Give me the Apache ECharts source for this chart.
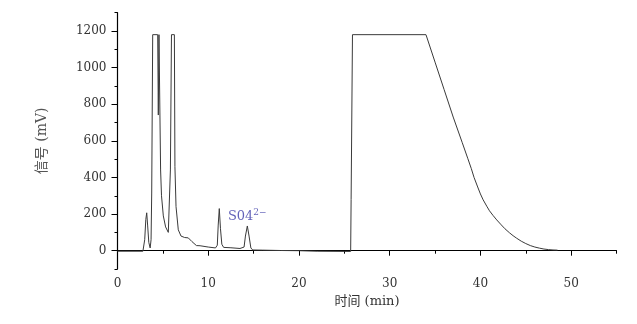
<!DOCTYPE html>
<html>
<head>
<meta charset="utf-8">
<script src="https://cdn.jsdelivr.net/npm/echarts@6/dist/echarts.min.js"></script>
<style>
  html, body { margin: 0; padding: 0; background: #fff; }
  #chart { width: 637px; height: 324px; }
</style>
</head>
<body>
<div id="chart"></div>
<script>
// retention time (min) and detector signal (mV)
const times = [
  0, 2.8, 3.0, 3.12, 3.22, 3.32, 3.45, 3.6, 3.7, 3.77, 3.88,
  4.43, 4.5, 4.57, 4.68, 4.75, 4.85, 5.05, 5.3, 5.6, 5.78,
  5.83, 5.95, 6.27, 6.33, 6.45, 6.7, 7.0, 7.4, 7.8, 8.2, 8.7, 9.1,
  10.0, 10.8, 11.0, 11.1, 11.22, 11.35, 11.5, 11.7, 12.5, 13.5,
  13.95, 14.1, 14.31, 14.5, 14.7, 14.9, 16, 18, 20, 22, 25, 25.7,
  25.75, 25.9, 34.0, 35, 36, 37, 38, 38.6, 39.0, 39.3, 39.7, 40.0,
  40.3, 40.7, 41.0, 41.4, 41.8, 42.3, 42.7, 43.2, 43.6, 44.0, 44.5,
  45.0, 45.5, 46.0, 46.5, 47.0, 47.5, 48.0, 48.5
];
const signal = [
  -3, -3, 60, 170, 207, 140, 45, 15, 60, 315, 1180,
  1180, 741, 1180, 1180, 441, 300, 190, 130, 100, 95,
  441, 1180, 1180, 459, 241, 114, 80, 72, 70, 50, 28, 27,
  20, 15, 30, 140, 230, 120, 35, 18, 16, 12,
  20, 80, 135, 80, 15, 4, 3, 1, 0, -3, -4, -4,
  280, 1180, 1180, 1030, 880, 730, 590, 505, 448, 400, 348, 310,
  278, 243, 218, 192, 168, 141, 120, 98, 82, 68, 52,
  39, 28, 20, 14, 9, 6, 4, 3
];

// axis ticks
const xMajor = [0, 10, 20, 30, 40, 50];
const xMinor = [5, 15, 25, 35, 45, 55];
const yMajor = [0, 200, 400, 600, 800, 1000, 1200];
const yMinor = [-100, 100, 300, 500, 700, 900, 1100, 1300];

// peak annotation
const peakName = 'S04';
const peakCharge = '2−';
const peakAt = [14.3, 185];

const serif = "'DejaVu Serif', 'Noto Sans CJK SC'";
const chart = echarts.init(document.getElementById('chart'));

const axisBase = (min, max) => ({
  type: 'value', min, max,
  splitLine: { show: false },
});

chart.setOption({
  animation: false,
  backgroundColor: '#fff',
  grid: { left: 117.5, right: 20.5, top: 12.7, bottom: 55 },
  xAxis: [
    {
      ...axisBase(0, 55),
      name: '时间 (min)',
      nameLocation: 'middle',
      nameGap: 24,
      nameTextStyle: { color: '#333', fontSize: 13, fontFamily: serif },
      axisLine: { lineStyle: { color: '#000', width: 1.2 } },
      axisTick: { customValues: xMajor, length: 5, lineStyle: { color: '#000' } },
      axisLabel: { customValues: xMajor, color: '#333', fontSize: 12, fontFamily: serif, margin: 9, formatter: v => String(v) },
    },
    {
      ...axisBase(0, 55),
      position: 'bottom',
      axisLine: { show: false },
      axisTick: { customValues: xMinor, length: 3, lineStyle: { color: '#000' } },
      axisLabel: { show: false },
    },
  ],
  yAxis: [
    {
      ...axisBase(-100, 1300),
      name: '信号 (mV)',
      nameLocation: 'middle',
      nameGap: 68,
      nameRotate: 90,
      nameTextStyle: { color: '#555', fontSize: 14, fontFamily: serif },
      axisLine: { show: true, lineStyle: { color: '#000', width: 1.2 } },
      axisTick: { show: true, customValues: yMajor, length: 6, lineStyle: { color: '#000' } },
      axisLabel: { customValues: yMajor, color: '#333', fontSize: 12, fontFamily: serif, margin: 11, formatter: v => String(v) },
    },
    {
      ...axisBase(-100, 1300),
      position: 'left',
      axisLine: { show: false },
      axisTick: { show: true, customValues: yMinor, length: 3, lineStyle: { color: '#000' } },
      axisLabel: { show: false },
    },
  ],
  series: [
    {
      type: 'line',
      data: times.map((t, i) => [t, signal[i]]),
      showSymbol: false,
      symbol: 'none',
      lineStyle: { color: '#3a3a3a', width: 1 },
    },
    {
      type: 'scatter',
      data: [peakAt],
      symbolSize: 1,
      itemStyle: { color: 'rgba(0,0,0,0)' },
      label: {
        show: true,
        position: 'inside',
        formatter: '{a|' + peakName + '}{b|' + peakCharge + '}',
        rich: {
          a: { color: '#3c3ca8', fontSize: 13, fontFamily: serif },
          b: { color: '#3c3ca8', fontSize: 9, fontFamily: serif, padding: [0, 0, 8, 0] },
        },
      },
    },
  ],
});
</script>
</body>
</html>
